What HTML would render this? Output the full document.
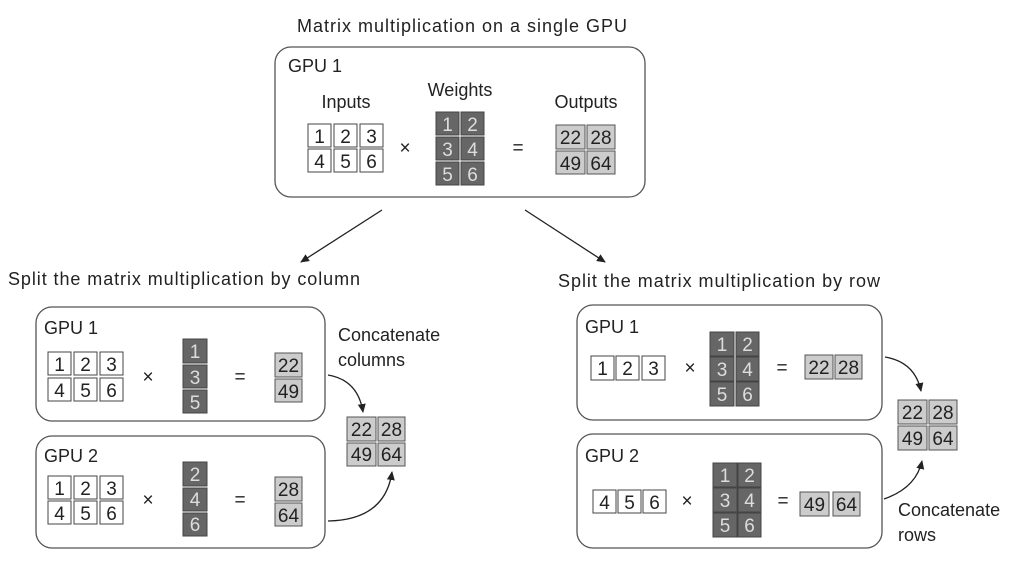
<!DOCTYPE html>
<html><head><meta charset="utf-8"><style>
html,body{margin:0;padding:0;background:#fff;}
svg{display:block;}
text{font-family:"Liberation Sans",sans-serif;fill:#222;}
.c{font-size:19px;text-anchor:middle;}
.w{fill:#666;stroke:#444;stroke-width:1;}
.wt{fill:#ddd;}
.o{fill:#ccc;stroke:#555;stroke-width:1;}
.i{fill:#fff;stroke:#444;stroke-width:1;}
.box{fill:#fff;stroke:#555;stroke-width:1.3;}
.l{font-size:18px;}
</style></head><body>
<svg width="1024" height="564" viewBox="0 0 1024 564" xmlns="http://www.w3.org/2000/svg">
<defs><marker id="a" markerWidth="10" markerHeight="10" refX="8" refY="5" orient="auto" markerUnits="userSpaceOnUse"><path d="M0,1 L9,5 L0,9 z" fill="#222"/></marker></defs>

<text x="297" y="32" class="l" textLength="330">Matrix multiplication on a single GPU</text>
<rect class="box" x="275" y="47" width="370" height="150" rx="16"/>
<text x="288" y="72" class="l">GPU 1</text>
<text x="346" y="108" class="l" text-anchor="middle">Inputs</text>
<text x="460" y="96" class="l" text-anchor="middle">Weights</text>
<text x="586" y="108" class="l" text-anchor="middle">Outputs</text>
<g>
<rect class="i" x="308" y="124" width="23" height="23"/><rect class="i" x="334" y="124" width="23" height="23"/><rect class="i" x="360" y="124" width="23" height="23"/>
<rect class="i" x="308" y="149" width="23" height="23"/><rect class="i" x="334" y="149" width="23" height="23"/><rect class="i" x="360" y="149" width="23" height="23"/>
<text class="c" x="319.5" y="143">1</text><text class="c" x="345.5" y="143">2</text><text class="c" x="371.5" y="143">3</text>
<text class="c" x="319.5" y="168">4</text><text class="c" x="345.5" y="168">5</text><text class="c" x="371.5" y="168">6</text>
</g>
<text class="c" x="405" y="154">×</text>
<g>
<rect class="w" x="436" y="112" width="23" height="23"/><rect class="w" x="461" y="112" width="23" height="23"/>
<rect class="w" x="436" y="137" width="23" height="23"/><rect class="w" x="461" y="137" width="23" height="23"/>
<rect class="w" x="436" y="162" width="23" height="23"/><rect class="w" x="461" y="162" width="23" height="23"/>
<text class="c wt" x="447.5" y="131">1</text><text class="c wt" x="472.5" y="131">2</text>
<text class="c wt" x="447.5" y="156">3</text><text class="c wt" x="472.5" y="156">4</text>
<text class="c wt" x="447.5" y="181">5</text><text class="c wt" x="472.5" y="181">6</text>
</g>
<text class="c" x="518" y="154">=</text>
<g>
<rect class="o" x="556" y="125" width="29" height="24"/><rect class="o" x="587" y="125" width="28" height="24"/>
<rect class="o" x="556" y="151" width="29" height="23"/><rect class="o" x="587" y="151" width="28" height="23"/>
<text class="c" x="570.5" y="144">22</text><text class="c" x="601" y="144">28</text>
<text class="c" x="570.5" y="170">49</text><text class="c" x="601" y="170">64</text>
</g>

<line x1="382" y1="210" x2="301" y2="262" stroke="#222" stroke-width="1.3" marker-end="url(#a)"/>
<line x1="525" y1="210" x2="605" y2="262" stroke="#222" stroke-width="1.3" marker-end="url(#a)"/>

<text x="8" y="285" class="l" textLength="352">Split the matrix multiplication by column</text>
<text x="558" y="287" class="l" textLength="322">Split the matrix multiplication by row</text>

<!-- Left column split -->
<rect class="box" x="36" y="307" width="289" height="114" rx="16"/>
<text x="44" y="334" class="l">GPU 1</text>
<g>
<rect class="i" x="48" y="352" width="23" height="23"/><rect class="i" x="74" y="352" width="23" height="23"/><rect class="i" x="100" y="352" width="23" height="23"/>
<rect class="i" x="48" y="378" width="23" height="23"/><rect class="i" x="74" y="378" width="23" height="23"/><rect class="i" x="100" y="378" width="23" height="23"/>
<text class="c" x="59.5" y="371">1</text><text class="c" x="85.5" y="371">2</text><text class="c" x="111.5" y="371">3</text>
<text class="c" x="59.5" y="397">4</text><text class="c" x="85.5" y="397">5</text><text class="c" x="111.5" y="397">6</text>
</g>
<text class="c" x="148" y="383">×</text>
<rect class="w" x="183" y="339" width="24" height="24"/><rect class="w" x="183" y="365" width="24" height="23"/><rect class="w" x="183" y="390" width="24" height="23"/>
<text class="c wt" x="195" y="358">1</text><text class="c wt" x="195" y="384">3</text><text class="c wt" x="195" y="409">5</text>
<text class="c" x="240" y="383">=</text>
<rect class="o" x="275" y="353" width="27" height="24"/><rect class="o" x="275" y="379" width="27" height="23"/>
<text class="c" x="288.5" y="372">22</text><text class="c" x="288.5" y="398">49</text>

<rect class="box" x="36" y="436" width="289" height="112" rx="16"/>
<text x="44" y="462" class="l">GPU 2</text>
<g>
<rect class="i" x="48" y="476" width="23" height="23"/><rect class="i" x="74" y="476" width="23" height="23"/><rect class="i" x="100" y="476" width="23" height="23"/>
<rect class="i" x="48" y="501" width="23" height="23"/><rect class="i" x="74" y="501" width="23" height="23"/><rect class="i" x="100" y="501" width="23" height="23"/>
<text class="c" x="59.5" y="495">1</text><text class="c" x="85.5" y="495">2</text><text class="c" x="111.5" y="495">3</text>
<text class="c" x="59.5" y="520">4</text><text class="c" x="85.5" y="520">5</text><text class="c" x="111.5" y="520">6</text>
</g>
<text class="c" x="148" y="506">×</text>
<rect class="w" x="183" y="462" width="24" height="24"/><rect class="w" x="183" y="488" width="24" height="23"/><rect class="w" x="183" y="513" width="24" height="23"/>
<text class="c wt" x="195" y="481">2</text><text class="c wt" x="195" y="506">4</text><text class="c wt" x="195" y="531">6</text>
<text class="c" x="240" y="506">=</text>
<rect class="o" x="275" y="477" width="27" height="24"/><rect class="o" x="275" y="503" width="27" height="23"/>
<text class="c" x="288.5" y="496">28</text><text class="c" x="288.5" y="522">64</text>

<text x="338" y="341" class="l">Concatenate</text>
<text x="338" y="366" class="l">columns</text>
<rect class="o" x="347" y="417" width="29" height="24"/><rect class="o" x="378" y="417" width="27" height="24"/>
<rect class="o" x="347" y="443" width="29" height="23"/><rect class="o" x="378" y="443" width="27" height="23"/>
<text class="c" x="361.5" y="436">22</text><text class="c" x="391.5" y="436">28</text>
<text class="c" x="361.5" y="461">49</text><text class="c" x="391.5" y="461">64</text>
<path d="M328,375 Q358,380 363,412" fill="none" stroke="#222" stroke-width="1.3" marker-end="url(#a)"/>
<path d="M328,521 Q385,520 392,472" fill="none" stroke="#222" stroke-width="1.3" marker-end="url(#a)"/>

<!-- Right row split -->
<rect class="box" x="577" y="305" width="305" height="115" rx="16"/>
<text x="585" y="333" class="l">GPU 1</text>
<rect class="i" x="591" y="356" width="23" height="24"/><rect class="i" x="616" y="356" width="23" height="24"/><rect class="i" x="642" y="356" width="23" height="24"/>
<text class="c" x="602.5" y="375">1</text><text class="c" x="627.5" y="375">2</text><text class="c" x="653.5" y="375">3</text>
<text class="c" x="690" y="374">×</text>
<g>
<rect class="w" x="710" y="332" width="24" height="24"/><rect class="w" x="736" y="332" width="23" height="24"/>
<rect class="w" x="710" y="357" width="24" height="24"/><rect class="w" x="736" y="357" width="23" height="24"/>
<rect class="w" x="710" y="382" width="24" height="24"/><rect class="w" x="736" y="382" width="23" height="24"/>
<text class="c wt" x="722" y="351">1</text><text class="c wt" x="747.5" y="351">2</text>
<text class="c wt" x="722" y="376">3</text><text class="c wt" x="747.5" y="376">4</text>
<text class="c wt" x="722" y="401">5</text><text class="c wt" x="747.5" y="401">6</text>
</g>
<text class="c" x="782" y="374">=</text>
<rect class="o" x="805" y="355" width="28" height="24"/><rect class="o" x="835" y="355" width="27" height="24"/>
<text class="c" x="819" y="374">22</text><text class="c" x="848.5" y="374">28</text>

<rect class="box" x="577" y="434" width="305" height="114" rx="16"/>
<text x="585" y="462" class="l">GPU 2</text>
<rect class="i" x="593" y="490" width="23" height="23"/><rect class="i" x="618" y="490" width="23" height="23"/><rect class="i" x="643" y="490" width="23" height="23"/>
<text class="c" x="604.5" y="509">4</text><text class="c" x="629.5" y="509">5</text><text class="c" x="654.5" y="509">6</text>
<text class="c" x="687" y="507">×</text>
<g>
<rect class="w" x="713" y="463" width="24" height="24"/><rect class="w" x="738" y="463" width="23" height="24"/>
<rect class="w" x="713" y="488" width="24" height="24"/><rect class="w" x="738" y="488" width="23" height="24"/>
<rect class="w" x="713" y="513" width="24" height="24"/><rect class="w" x="738" y="513" width="23" height="24"/>
<text class="c wt" x="725" y="482">1</text><text class="c wt" x="749.5" y="482">2</text>
<text class="c wt" x="725" y="507">3</text><text class="c wt" x="749.5" y="507">4</text>
<text class="c wt" x="725" y="532">5</text><text class="c wt" x="749.5" y="532">6</text>
</g>
<text class="c" x="783" y="507">=</text>
<rect class="o" x="800" y="492" width="29" height="24"/><rect class="o" x="833" y="492" width="27" height="24"/>
<text class="c" x="814.5" y="511">49</text><text class="c" x="846.5" y="511">64</text>

<rect class="o" x="898" y="400" width="29" height="24"/><rect class="o" x="929" y="400" width="28" height="24"/>
<rect class="o" x="898" y="426" width="29" height="24"/><rect class="o" x="929" y="426" width="28" height="24"/>
<text class="c" x="912.5" y="419">22</text><text class="c" x="943" y="419">28</text>
<text class="c" x="912.5" y="445">49</text><text class="c" x="943" y="445">64</text>
<path d="M885,357 Q915,362 921,391" fill="none" stroke="#222" stroke-width="1.3" marker-end="url(#a)"/>
<path d="M884,499 Q916,488 922,461" fill="none" stroke="#222" stroke-width="1.3" marker-end="url(#a)"/>
<text x="898" y="516" class="l">Concatenate</text>
<text x="898" y="541" class="l">rows</text>
</svg>
</body></html>
